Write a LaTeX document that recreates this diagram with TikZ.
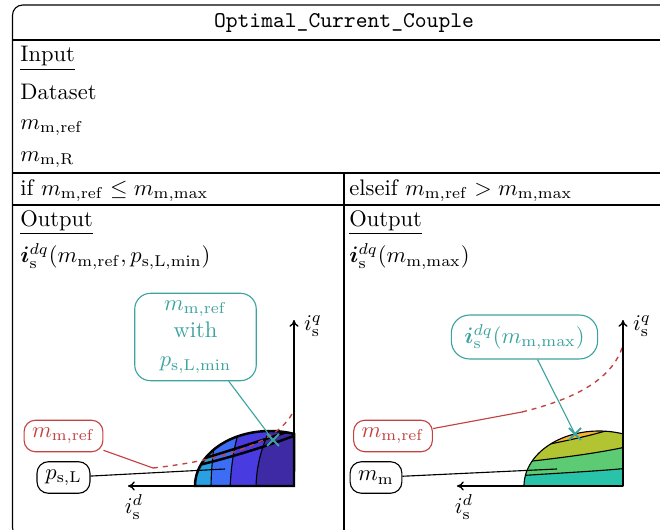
\documentclass[tikz,border=0pt]{standalone}
\usepackage{amsmath,amssymb,bm}
\usetikzlibrary{arrows.meta,calc}
\definecolor{tealc}{RGB}{60,163,160}
\definecolor{redc}{RGB}{195,65,65}
\definecolor{bA}{RGB}{40,160,225}
\definecolor{bB}{RGB}{60,110,245}
\definecolor{bC}{RGB}{72,60,225}
\definecolor{bD}{RGB}{62,42,165}
\definecolor{gA}{RGB}{40,195,168}
\definecolor{gB}{RGB}{92,203,115}
\definecolor{gC}{RGB}{178,196,49}
\definecolor{gD}{RGB}{242,182,50}
\tikzset{
  frame/.style={line width=0.5pt},
  txt/.style={anchor=base west, inner sep=0pt},
  lbox/.style={draw, rounded corners=5pt, line width=0.5pt, inner xsep=3pt, minimum height=14pt},
  redbox/.style={lbox, draw=redc, text=redc},
  blkbox/.style={lbox, draw=black, text=black},
  tealbox/.style={lbox, draw=tealc, text=tealc, align=center, rounded corners=7pt},
  axisline/.style={line width=0.6pt, -{To[length=3pt,width=4pt]}},
  redcurve/.style={draw=redc, line width=0.6pt, dash pattern=on 2.2pt off 2.2pt},
  redlink/.style={draw=redc, line width=0.5pt},
  tlink/.style={draw=tealc, line width=0.5pt},
  xmark/.style={draw=tealc, line width=0.9pt},
  bandline/.style={line width=0.5pt},
  shapeline/.style={line width=1.1pt},
}
\begin{document}
\begin{tikzpicture}[x=0.4444pt, y=-0.4444pt]
\useasboundingbox (0,0) rectangle (660,530);
% frame
\draw[frame, rounded corners=4.5pt] (12.5,5) -- (12.5,538) -- (670,538) -- (670,5) -- cycle;
\draw[frame] (12.5,40) -- (670,40);
\draw[frame] (12.5,173) -- (670,173);
\draw[frame] (12.5,205) -- (670,205);
\draw[frame] (344,173) -- (344,540);
% texts
\node[inner sep=0pt] (title) at (344,23) {\texttt{Optimal\_Current\_Couple}};
\node[txt] (in) at (20,62) {\underline{Input}};
\node[txt] (ds) at (20,100) {Dataset};
\node[txt] (mref) at (20,129) {$m_{\mathrm{m,ref}}$};
\node[txt] (mR) at (20,161) {$m_{\mathrm{m,R}}$};
\node[txt] (ifc) at (20,195) {if $m_{\mathrm{m,ref}} \leq m_{\mathrm{m,max}}$};
\node[txt] (elc) at (349,195) {elseif $m_{\mathrm{m,ref}} > m_{\mathrm{m,max}}$};
\node[txt] (outL) at (20,226) {\underline{Output}};
\node[txt] (outR) at (349,226) {\underline{Output}};
\node[txt] (iL) at (20,263) {$\bm{i}_{\mathrm{s}}^{dq}(m_{\mathrm{m,ref}}, p_{\mathrm{s,L,min}})$};
\node[txt] (iR) at (349,263) {$\bm{i}_{\mathrm{s}}^{dq}(m_{\mathrm{m,max}})$};

% ===== left plot =====
\def\shapeL{(294,486) -- (195,486) -- plot[domain=180:71.3, samples=50] ({270+75*cos(\x)},{486-55*sin(\x)}) -- cycle}
\begin{scope}
\clip \shapeL;
\fill[bA] (190,400) rectangle (300,490);
\fill[bB] (211,490) .. controls (211,470) and (213,455) .. (216,425) -- (300,425) -- (300,490) -- cycle;
\fill[bC] (230,490) .. controls (231,465) and (234,445) .. (242,420) -- (300,420) -- (300,490) -- cycle;
\fill[bD] (256,490) .. controls (256,465) and (262,445) .. (274,420) -- (300,420) -- (300,490) -- cycle;
\draw[bandline] (211,490) .. controls (211,470) and (213,455) .. (216,425);
\draw[bandline] (230,490) .. controls (231,465) and (234,445) .. (242,420);
\draw[bandline] (256,490) .. controls (256,465) and (262,445) .. (274,420);
\draw[shapeline] (199,460) .. controls (225,452) and (260,441) .. (290,431);
\draw[shapeline] (199,465) .. controls (228,458) and (265,447) .. (296,435);
\end{scope}
\draw[shapeline] \shapeL;
\coordinate (rL1) at (153,468);
\coordinate (rL2) at (294,410);
\draw[redcurve] (rL1) .. controls (225,460) and (280,442) .. (rL2);
\coordinate (oL) at (294,486);
\coordinate (xL) at (128,486);
\coordinate (yL) at (294,320);
\draw[axisline] (oL) -- (xL);
\draw[axisline] (oL) -- (yL);
\node (idL) at (134,507) {$i_{\mathrm{s}}^{d}$};
\node (iqL) at (313,326) {$i_{\mathrm{s}}^{q}$};
\node[redbox, minimum width=35pt] (redL) at (63.5,436) {$m_{\mathrm{m,ref}}$};
\node[blkbox, minimum width=23.5pt] (blkL) at (63.5,477.5) {$p_{\mathrm{s,L}}$};
\node[tealbox, minimum width=54pt, minimum height=38pt] (tealL) at (195.5,337) {$m_{\mathrm{m,ref}}$\\with\\[1pt]$p_{\mathrm{s,L,min}}$};
\coordinate (pL) at (225,469);
\coordinate (xmL) at (273,440);
\draw[redlink] (redL) -- (rL1);
\draw[line width=0.5pt] (blkL) -- (pL);
\draw[tlink] (tealL) -- (xmL);
\draw[xmark] ($(xmL)+(-6,-6)$) -- ($(xmL)+(6,6)$);
\draw[xmark] ($(xmL)+(-6,6)$) -- ($(xmL)+(6,-6)$);

% ===== right plot =====
\def\shapeR{(623,486) -- (524,486) -- plot[domain=180:71.3, samples=50] ({599+75*cos(\x)},{486-55*sin(\x)}) -- cycle}
\begin{scope}
\clip \shapeR;
\fill[gA] (520,400) rectangle (630,490);
\fill[gB] (515,476) .. controls (560,473) and (600,471) .. (630,468) -- (630,420) -- (515,420) -- cycle;
\fill[gC] (515,463) .. controls (560,458) and (600,453) .. (630,446) -- (630,420) -- (515,420) -- cycle;
\fill[gD] (540,446) .. controls (565,441) and (590,436) .. (612,429) -- (612,420) -- (540,420) -- cycle;
\draw[bandline] (515,476) .. controls (560,473) and (600,471) .. (630,468);
\draw[bandline] (515,463) .. controls (560,458) and (600,453) .. (630,446);
\draw[bandline] (540,446) .. controls (565,441) and (590,436) .. (612,429);
\end{scope}
\draw[bandline] \shapeR;
\coordinate (rR1) at (522,412);
\coordinate (rR2) at (623,345);
\draw[redcurve] (rR1) .. controls (570,400) and (612,382) .. (rR2);
\coordinate (oR) at (623,486);
\coordinate (xR) at (457,486);
\coordinate (yR) at (623,320);
\draw[axisline] (oR) -- (xR);
\draw[axisline] (oR) -- (yR);
\node (idR) at (464,507) {$i_{\mathrm{s}}^{d}$};
\node (iqR) at (642,326) {$i_{\mathrm{s}}^{q}$};
\node[redbox, minimum width=35pt] (redR) at (393,436) {$m_{\mathrm{m,ref}}$};
\node[blkbox, minimum width=23pt] (blkR) at (376,477.5) {$m_{\mathrm{m}}$};
\node[tealbox, minimum width=65pt, minimum height=19.5pt, rounded corners=8pt] (tealR) at (524.5,337) {$\bm{i}_{\mathrm{s}}^{dq}(m_{\mathrm{m,max}})$};
\coordinate (pR) at (557,469);
\coordinate (xmR) at (575,434);
\path (tealR.south) ++(13,0) coordinate (tRs);
\draw[redlink] (redR) -- (rR1);
\draw[line width=0.5pt] (blkR) -- (pR);
\draw[tlink] (tRs) -- (xmR);
\draw[xmark] ($(xmR)+(-6,-6)$) -- ($(xmR)+(6,6)$);
\draw[xmark] ($(xmR)+(-6,6)$) -- ($(xmR)+(6,-6)$);
\end{tikzpicture}
\end{document}
